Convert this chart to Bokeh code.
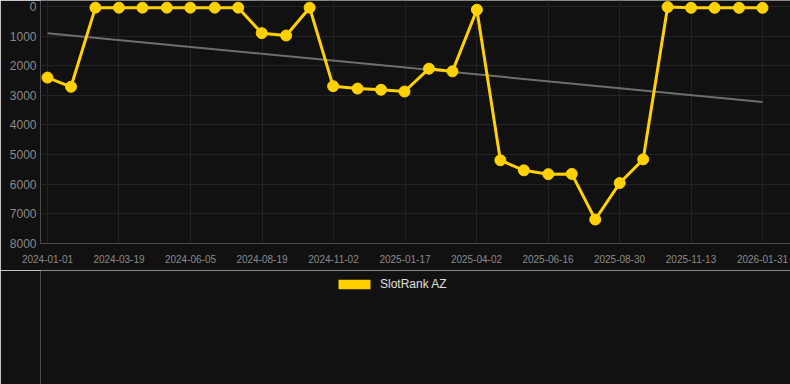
import pandas as pd
from bokeh.plotting import figure
from bokeh.layouts import column
from bokeh.models import (Range1d, FixedTicker, CustomJSTickFormatter, Legend,
                          LegendItem, ColumnDataSource)
from bokeh.embed import file_html
from bokeh.resources import INLINE

# ---- data ----
dates = ["2024-01-01", "2024-01-26", "2024-02-21", "2024-03-17", "2024-04-11",
         "2024-05-07", "2024-06-01", "2024-06-27", "2024-07-22", "2024-08-16",
         "2024-09-11", "2024-10-06", "2024-10-31", "2024-11-26", "2024-12-21",
         "2025-01-15", "2025-02-10", "2025-03-07", "2025-04-02", "2025-04-27",
         "2025-05-22", "2025-06-17", "2025-07-12", "2025-08-06", "2025-09-01",
         "2025-09-26", "2025-10-22", "2025-11-16", "2025-12-11", "2026-01-06",
         "2026-01-31"]
ranks = [2400, 2710, 40, 40, 40, 40, 40, 40, 40, 900,
         980, 40, 2690, 2770, 2810, 2870, 2100, 2190, 110, 5190,
         5530, 5660, 5650, 7190, 5960, 5160, 20, 45, 45, 45,
         45]
trend_dates = ["2024-01-01", "2026-01-31"]
trend_values = [900, 3220]
x_tick_labels = ["2024-01-01", "2024-03-19", "2024-06-05", "2024-08-19",
                 "2024-11-02", "2025-01-17", "2025-04-02", "2025-06-16",
                 "2025-08-30", "2025-11-13", "2026-01-31"]
y_ticks = [0, 1000, 2000, 3000, 4000, 5000, 6000, 7000, 8000]
series_name = "SlotRank AZ"

GOLD = "#FFD100"
BG = "#111111"
GRID = "#232323"
TICK = "#8a8a8a"
FONT = "Liberation Sans"

x = pd.to_datetime(dates)
src = ColumnDataSource(dict(x=x, y=ranks))
tsrc = ColumnDataSource(dict(x=pd.to_datetime(trend_dates), y=trend_values))

day = pd.Timedelta(days=1)
x0, x1 = x[0], x[-1]
span = x1 - x0

p = figure(width=790, height=270, x_axis_type="datetime",
           output_backend="svg", toolbar_location=None,
           x_range=Range1d(x0 - 7.45 * day, x1 + 29.8 * day),
           y_range=Range1d(8000, -202),
           min_border_left=40, min_border_right=0, min_border_top=0,
           min_border_bottom=27,
           background_fill_color=BG, border_fill_color=BG,
           outline_line_color=None)

# grid / axes
n = len(x_tick_labels) - 1
tick_ms = [(x0 + span * k / n).value / 1e6 for k in range(n + 1)]
p.xaxis.ticker = FixedTicker(ticks=tick_ms)
p.xaxis.formatter = CustomJSTickFormatter(args=dict(labels=x_tick_labels),
                                          code="return labels[index];")
p.yaxis.ticker = FixedTicker(ticks=y_ticks)
for ax in (p.xaxis, p.yaxis):
    ax.axis_line_color = None
    ax.major_tick_line_color = None
    ax.minor_tick_line_color = None
    ax.major_tick_out = 0
    ax.major_tick_in = 0
    ax.major_label_text_color = TICK
    ax.major_label_text_font = FONT
p.xaxis.major_label_text_font_size = "10px"
p.xaxis.major_label_standoff = 11
p.yaxis.major_label_text_font_size = "12px"
p.yaxis.major_label_standoff = 4
p.xgrid.ticker = FixedTicker(ticks=tick_ms)
p.ygrid.ticker = FixedTicker(ticks=y_ticks)
p.grid.grid_line_color = GRID
p.grid.grid_line_width = 1

# trend line
p.line("x", "y", source=tsrc, line_color="#6e6e6e", line_width=2)

# series
p.line("x", "y", source=src, line_color=GOLD, line_width=3)
p.scatter("x", "y", source=src, size=11, fill_color=GOLD, line_color=GOLD)

# ---- legend strip below the chart ----
q = figure(width=790, height=114, output_backend="svg", toolbar_location=None,
           x_range=Range1d(0, 790), y_range=Range1d(0, 114),
           min_border_left=0, min_border_right=0, min_border_top=0,
           min_border_bottom=0, background_fill_color=BG,
           border_fill_color=BG, outline_line_color=None)
q.axis.visible = False
q.grid.visible = False
# zero-area helper (first data point, far outside this strip's range):
# it only supplies the legend's filled swatch
ssrc = ColumnDataSource(dict(x=[x0.value / 1e6], y=ranks[:1]))
swatch = q.quad(left="x", right="x", top="y", bottom="y", source=ssrc,
                fill_color=GOLD, line_color=None)
legend = Legend(items=[LegendItem(label=series_name, renderers=[swatch])],
                location=(294, 93), orientation="horizontal",
                glyph_width=40, glyph_height=12, label_height=12,
                label_text_font_size="12px", label_text_color="#e0e0e0",
                label_text_font=FONT, label_standoff=6, padding=0, margin=0,
                background_fill_alpha=0, border_line_alpha=0)
q.add_layout(legend, "center")

layout = column(p, q, spacing=0)
open("out.html", "w").write(file_html(layout, INLINE))
